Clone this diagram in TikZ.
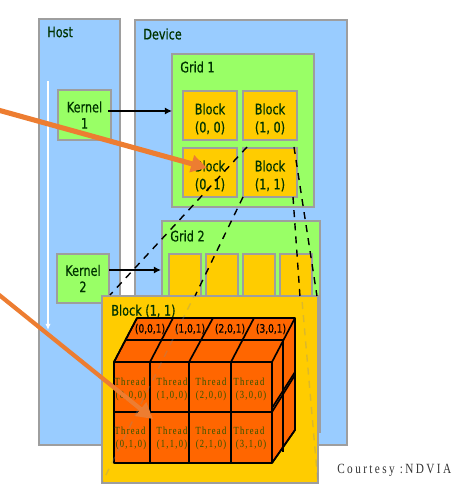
\documentclass[tikz,border=0pt]{standalone}
\usepackage{fontspec}
\setmainfont[FakeStretch=0.78,FakeBold=0.6]{DejaVu Sans}
\newfontfamily\threadfont[FakeStretch=0.78,LetterSpace=12]{Liberation Serif}
\newfontfamily\creditfont[FakeStretch=0.8,LetterSpace=17]{Liberation Serif}
\usepackage{tikz}
\usetikzlibrary{arrows.meta,calc}
\definecolor{panelblue}{HTML}{99CCFF}
\definecolor{gridgreen}{HTML}{99FF66}
\definecolor{blockyellow}{HTML}{FFCC00}
\definecolor{cubeorange}{HTML}{FF6600}
\definecolor{labelgreen}{HTML}{003300}
\definecolor{threadgreen}{HTML}{2B5500}
\definecolor{callout}{HTML}{ED7D31}
\tikzset{
	box/.style={draw=black!38,line width=1.1pt,anchor=north west,inner sep=0pt,outer sep=0pt,align=center,text=labelgreen,font=\fontsize{8.2}{10.3}\selectfont},
	panel/.style={box,fill=panelblue},
	gridbox/.style={box,fill=gridgreen},
	blockbox/.style={box,fill=blockyellow},
	title/.style={anchor=west,inner sep=0pt,text=labelgreen,font=\fontsize{8.2}{10}\selectfont},
	link/.style={black,line width=0.85pt,-{Latex[length=4pt,width=4pt]}},
	tie/.style={black,line width=0.8pt,dash pattern=on 4pt off 3.5pt},
	faint/.style={black!45,opacity=0.3,line width=0.8pt,dash pattern=on 4pt off 3.5pt},
	edge/.style={draw=black,line width=0.95pt,line join=round},
	callarrow/.style={callout,-{Triangle[length=9pt,width=9.5pt]}},
	threadlabel/.style={inner sep=0pt,text=threadgreen,font=\threadfont\fontsize{6.2}{7.8}\selectfont},
	toplabel/.style={inner sep=0pt,text=black,font=\fontsize{6.6}{8}\selectfont}
}
\begin{document}
\begin{tikzpicture}[x=0.02cm,y=-0.02cm]
	\useasboundingbox (0,0) rectangle (460,492);
	% Coordinates
	\coordinate (S1) at (-2,110);
	\coordinate (T1) at (207,168);
	\coordinate (S2) at (-2,294);
	\coordinate (T2) at (153,419);
	\coordinate (W1) at (48,81);
	\coordinate (W2) at (48,330);
	\coordinate (K1) at (108,111);
	\coordinate (G1) at (172,111);
	\coordinate (K2) at (109,270);
	\coordinate (G2) at (161,270);
	% Panels
	\node[panel,minimum width=1.62cm,minimum height=8.52cm] (host) at (39,19) {};
	\node[panel,minimum width=4.24cm,minimum height=8.5cm] (device) at (135,20) {};
	\node[title] (hostlabel) at (47,32) {Host};
	\node[title] (devicelabel) at (143,34) {Device};
	\draw[white,line width=0.6pt,-{Latex[length=3.5pt,width=3pt]}] (W1)--(W2);
	% Kernels
	\node[gridbox,minimum width=1.06cm,minimum height=1cm] (kern1) at (58,90) {Kernel\\[-1pt]1};
	\node[gridbox,minimum width=1.04cm,minimum height=0.98cm] (kern2) at (57,254) {Kernel\\[-1pt]2};
	% Grid 2
	\node[gridbox,minimum width=3.16cm,minimum height=4.22cm] (grid2) at (162,221) {};
	\node[title] (grid2label) at (170,236) {Grid 2};
	\foreach \n/\x in {a/169,b/206,c/243,d/280} {
		\node[blockbox,minimum width=0.64cm,minimum height=1.2cm] (small\n) at (\x,254) {};
	}
	% Grid 1
	\node[gridbox,minimum width=2.84cm,minimum height=3.06cm] (grid1) at (172,54) {};
	\node[title] (grid1label) at (180,67) {Grid 1};
	\foreach \n/\x/\y/\t in {blkA/183/91/{(0, 0)},blkB/243/91/{(1, 0)},blkC/183/148/{(0, 1)},blkD/243/148/{(1, 1)}} {
		\node[blockbox,minimum width=1.08cm,minimum height=0.98cm] (\n) at (\x,\y) {\rule{0pt}{10pt}Block\\\t};
	}
	% Connectors
	\draw[link] (K1)--(G1);
	\draw[link] (K2)--(G2);
	% Block (1,1) enlarged
	\node[blockbox,minimum width=4.32cm,minimum height=3.74cm] (big) at (102,296) {};
	\node[title] (biglabel) at (111,311) {Block (1, 1)};
	\draw[tie] ($(blkD.north west)+(4,-1)$)--($(big.north west)+(8,-1)$);
	\draw[tie] (blkD.south west)--($(big.north west)+(93,0)$);
	\draw[tie] ($(blkD.south east)+(-4,0)$)--($(big.north east)+(-18,0)$);
	\draw[tie] ($(blkD.north east)+(-3,-1)$)--($(big.north east)+(-1,0)$);
	% Cube
	\filldraw[fill=cubeorange,edge] (114,362)--(137,318)--(295,318)--(295,430)--(272,463)--(114,463)--cycle;
	\draw[edge] (125,340)--(283,340);
	\foreach \x/\u in {114/137,150/173,189/213,231/254,272/295} {
		\draw[edge] (\x,362)--(\u,318);
	}
	\foreach \x in {114,150,189,231,272} {
		\draw[edge] (\x,362)--(\x,463);
	}
	\draw[edge] (114,362)--(272,362);
	\draw[edge] (114,412)--(272,412);
	\draw[edge] (272,412)--(295,375);
	\draw[edge] (272,408)--(295,372);
	\draw[edge] (283,340)--(283,452);
	\draw[edge] (272,463)--(295,430);
	% Thread labels
	\foreach \n/\x/\c/\t in {0/130/131/150,1/172/172/190,2/211/211/230,3/249/251/271} {
		\node[toplabel] (top\n) at (\t,329) {(\n,0,1)};
		\node[threadlabel] (thA\n) at (\x,382) {Thread};
		\node[threadlabel] (parA\n) at (\c,396) {(\n,0,0)};
		\node[threadlabel] (thB\n) at (\x,431) {Thread};
		\node[threadlabel] (parB\n) at (\c,445) {(\n,1,0)};
	}
	% Ties seen through the enlarged block
	\begin{scope}
		\clip (big.north west) rectangle (big.south east);
		\draw[faint] (blkD.south west)--(big.south west);
		\draw[faint] ($(blkD.south east)+(-4,0)$)--(big.south east);
	\end{scope}
	\node[inner sep=0pt,anchor=west,text=black!80,font=\creditfont\fontsize{8}{9}\selectfont] (credit) at (337,470) {Courtesy :NDVIA};
	% Callouts
	\draw[callarrow,line width=2.9pt] (S1)--(T1);
	\draw[callarrow,line width=2.4pt] (S2)--(T2);
\end{tikzpicture}
\end{document}
